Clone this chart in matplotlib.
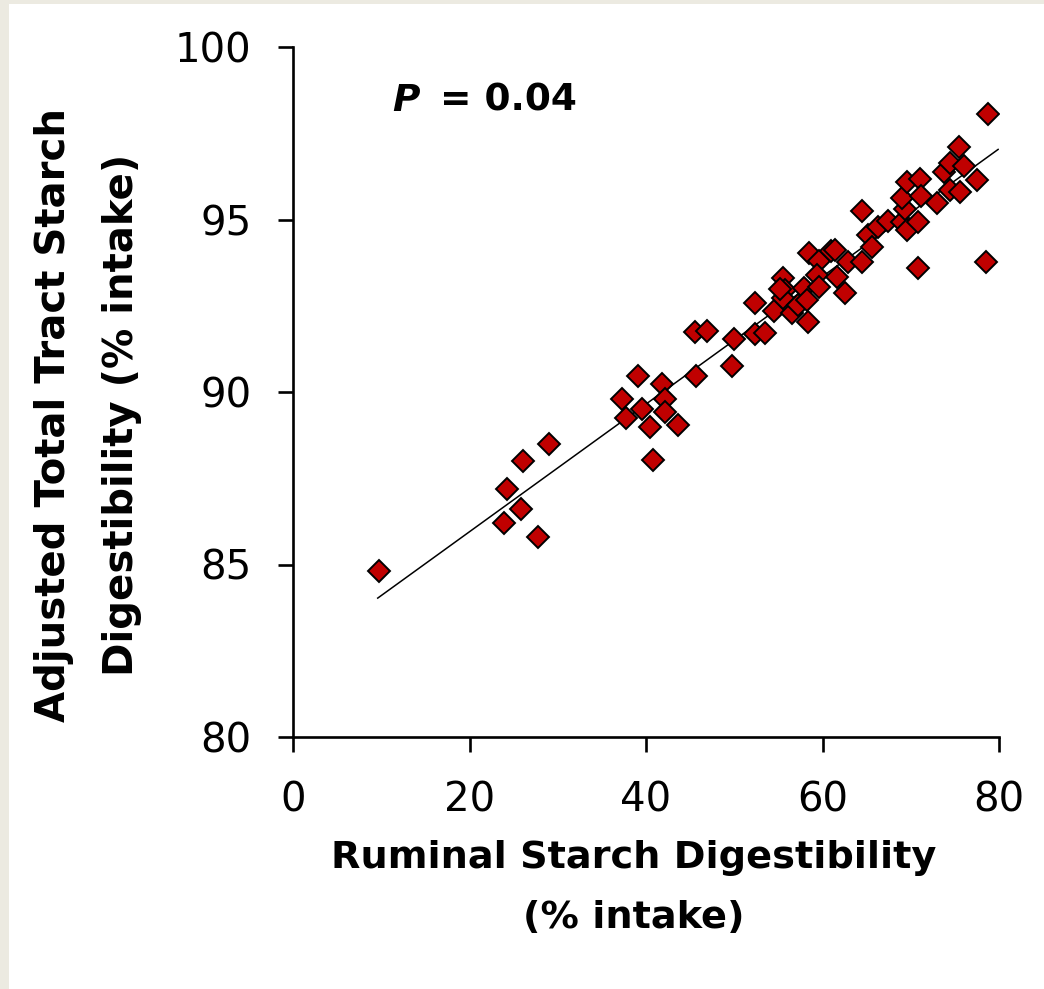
import matplotlib.pyplot as plt
import numpy as np
from matplotlib.patches import Rectangle

# Данные
ruminal = [
    9.7, 24.2, 23.9, 25.8, 26.1, 27.8, 29.0, 37.3, 37.7, 39.1,
    39.6, 40.4, 40.8, 41.8, 42.2, 42.1, 43.6, 45.5, 46.9, 45.7,
    49.7, 50.0, 52.3, 52.4, 53.5, 54.5, 55.5, 55.7, 55.5, 56.6,
    57.2, 57.9, 58.3, 58.4, 58.5, 59.6, 59.4, 59.6, 61.0, 61.4,
    61.6, 62.5, 62.9, 64.5, 64.5, 65.2, 65.6, 66.3, 67.4, 69.0,
    69.6, 70.8, 69.3, 69.0, 69.6, 71.0, 71.2, 70.8, 73.0, 74.4,
    75.6, 73.8, 74.4, 76.0, 75.5, 77.5, 78.8, 78.5, 55.2,
]
total_tract = [
    84.81, 87.20, 86.19, 86.61, 88.00, 85.81, 88.48, 89.80, 89.24, 90.46,
    89.51, 88.98, 88.03, 90.23, 89.80, 89.43, 89.05, 91.75, 91.77, 90.46,
    90.74, 91.53, 91.69, 92.58, 91.70, 92.35, 93.30, 92.96, 92.72, 92.28,
    92.52, 93.02, 92.68, 92.04, 94.03, 93.79, 93.40, 93.05, 94.10, 94.12,
    93.32, 92.87, 93.76, 93.77, 95.25, 94.56, 94.20, 94.79, 94.96, 94.92,
    94.69, 94.92, 95.30, 95.61, 96.10, 96.17, 95.67, 93.60, 95.49, 95.86,
    95.80, 96.38, 96.65, 96.55, 97.09, 96.14, 98.07, 93.76, 93.00,
]

# Линия регрессии (с рисунка)
fit_slope = 0.185
fit_intercept = 82.25
fit_range = [9.6, 79.9]

x_ticks = [0, 20, 40, 60, 80]
y_ticks = [80, 85, 90, 95, 100]

fig = plt.figure(figsize=(10.44, 9.89), dpi=100)
fig.patch.set_facecolor("#ECEAE1")
fig.patches.append(
    Rectangle((9 / 1044, 0), 1, 1 - 4 / 989, transform=fig.transFigure,
              facecolor="white", edgecolor="none", zorder=-10)
)

ax = fig.add_axes([293 / 1044, 1 - 737 / 989, 706 / 1044, 690 / 989])
ax.set_facecolor("none")

ax.plot(ruminal, total_tract, linestyle="none", marker="D", markersize=11,
        markerfacecolor="#C00000", markeredgecolor="black",
        markeredgewidth=1.4, zorder=3)

fx = np.array(fit_range)
ax.plot(fx, fit_intercept + fit_slope * fx, color="black", linewidth=1.1,
        zorder=2)

ax.set_xlim(0, 80)
ax.set_ylim(80, 100)
ax.set_xticks(x_ticks)
ax.set_yticks(y_ticks)

for side in ["top", "right"]:
    ax.spines[side].set_visible(False)
for side in ["left", "bottom"]:
    ax.spines[side].set_linewidth(1.9)

ax.tick_params(direction="out", length=11, width=1.9, labelsize=29)
ax.tick_params(axis="x", pad=20)
ax.tick_params(axis="y", pad=19)

ax.set_xlabel("Ruminal Starch Digestibility\n(% intake)", fontsize=27.5,
              fontweight="bold", linespacing=1.85)
ax.xaxis.set_label_coords(0.482, -0.15)
ax.xaxis.label.set_va("top")
ax.set_ylabel("Adjusted Total Tract Starch\nDigestibility (% intake)",
              fontsize=29, fontweight="bold", linespacing=1.9)
ax.yaxis.set_label_coords(-0.214, 0.467)

ax.text(0.14, 0.922, "P", transform=ax.transAxes, fontsize=27,
        fontweight="bold", fontstyle="italic", va="center", ha="left")
ax.text(0.208, 0.922, "= 0.04", transform=ax.transAxes, fontsize=27,
        fontweight="bold", va="center", ha="left")

fig.savefig("out.png", dpi=100, facecolor=fig.get_facecolor())
